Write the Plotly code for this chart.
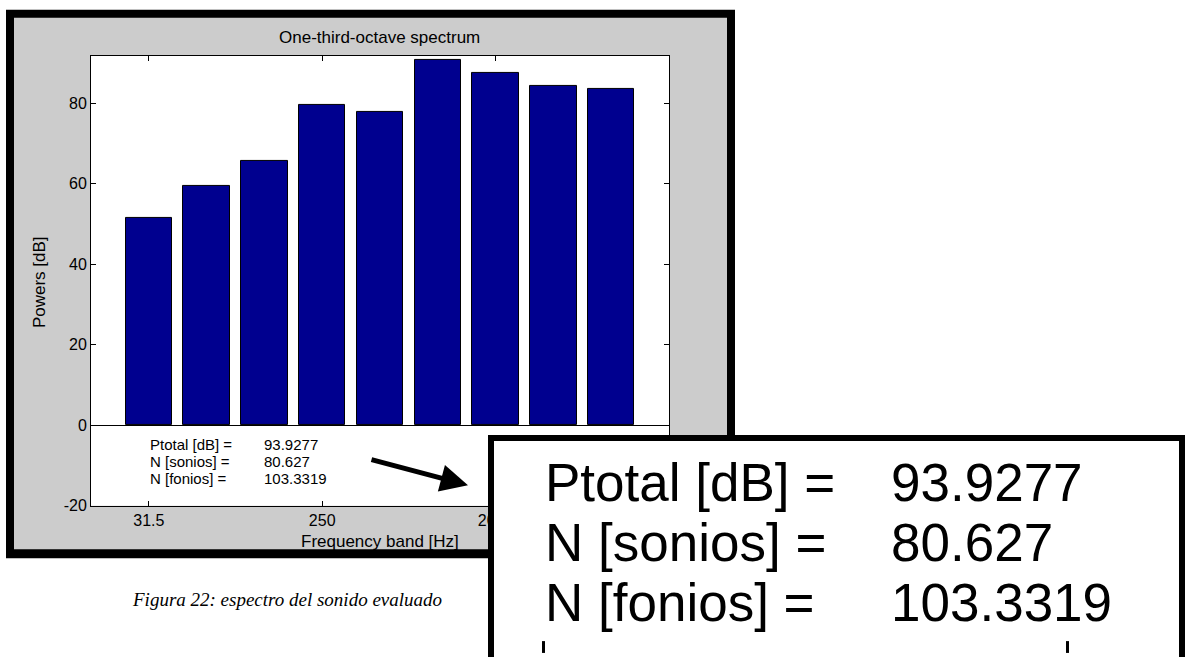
import plotly.graph_objects as go

# ---- data ----
bands = ["31.5", "63", "125", "250", "500", "1000", "2000", "4000", "8000"]
powers_db = [51.5, 59.4, 65.6, 79.6, 77.7, 90.7, 87.4, 84.2, 83.6]
tick_labels = ["31.5", "250", "2000"]
y_ticks = [-20, 0, 20, 40, 60, 80]
result_labels = ["Ptotal [dB] =", "N [sonios] =", "N [fonios] ="]
result_values = ["93.9277", "80.627", "103.3319"]
title_text = "One-third-octave spectrum"
x_title = "Frequency band [Hz]"
y_title = "Powers [dB]"
caption = "Figura 22: espectro del sonido evaluado"

# ---- layout helpers (pixel -> paper) ----
W, H = 1190, 657
def px(x):
    return x / W
def py(y):
    return 1 - y / H

x_pos = list(range(1, len(bands) + 1))
tick_pos = [x_pos[bands.index(t)] for t in tick_labels]

SANS = "Liberation Sans, Arial, Helvetica, sans-serif"
SERIF = "Liberation Serif, Times New Roman, serif"

fig = go.Figure()
fig.add_trace(go.Bar(
    x=x_pos, y=powers_db, width=0.8,
    marker=dict(color="#00008f", line=dict(color="#000000", width=1)),
    showlegend=False, hoverinfo="skip",
))

ax_left, ax_right, ax_top, ax_bot = 91, 669, 56.7, 512.8

shapes = [
    # outer black frame
    dict(type="rect", xref="paper", yref="paper", x0=px(6), x1=px(735), y0=py(566), y1=py(10),
         fillcolor="#000000", line=dict(width=0), layer="below"),
    # gray figure background
    dict(type="rect", xref="paper", yref="paper", x0=px(14), x1=px(727), y0=py(557), y1=py(18),
         fillcolor="#cccccc", line=dict(width=0), layer="below"),
    # white plot area
    dict(type="rect", xref="paper", yref="paper", x0=px(ax_left), x1=px(ax_right), y0=py(ax_bot), y1=py(ax_top),
         fillcolor="#ffffff", line=dict(width=0), layer="below"),
    # zoom inset box
    dict(type="rect", xref="paper", yref="paper", x0=px(491), x1=px(1182), y0=py(720), y1=py(444),
         fillcolor="#ffffff", line=dict(color="#000000", width=6), layer="above"),
    # magnified tick marks at bottom of inset
    dict(type="line", xref="paper", yref="paper", x0=px(543.5), x1=px(543.5), y0=py(650), y1=py(662),
         line=dict(color="#000000", width=3), layer="above"),
    dict(type="line", xref="paper", yref="paper", x0=px(1067.5), x1=px(1067.5), y0=py(650), y1=py(662),
         line=dict(color="#000000", width=3), layer="above"),
]

annotations = [
    dict(text=title_text, x=px(380), y=py(38), xref="paper", yref="paper", showarrow=False,
         font=dict(family=SANS, size=17, color="#000000"), xanchor="center", yanchor="middle"),
    dict(text=x_title, x=px(380), y=py(549), xref="paper", yref="paper", showarrow=False,
         font=dict(family=SANS, size=17, color="#000000"), xanchor="center", yanchor="middle"),
    dict(text=y_title, x=px(39), y=py(286), xref="paper", yref="paper", showarrow=False, textangle=-90,
         font=dict(family=SANS, size=17, color="#000000"), xanchor="center", yanchor="middle"),
    dict(text=caption, x=px(130), y=py(608), xref="paper", yref="paper", showarrow=False,
         font=dict(family=SERIF, size=19, color="#000000", style="italic"), xanchor="left", yanchor="middle"),
    # arrow
    dict(text="", x=px(468), y=py(492), xref="paper", yref="paper", showarrow=True,
         ax=370 - 468, ay=466 - 492, arrowhead=2, arrowsize=1.1, arrowwidth=5, arrowcolor="#000000",
         standoff=0, startstandoff=0),
]

small_y = [451, 468, 485]
big_y = [489, 550, 611]
for lab, val, ys, yb in zip(result_labels, result_values, small_y, big_y):
    annotations.append(dict(text=lab, x=px(148), y=py(ys), xref="paper", yref="paper", showarrow=False,
                            font=dict(family=SANS, size=15, color="#000000"), xanchor="left", yanchor="middle"))
    annotations.append(dict(text=val, x=px(262), y=py(ys), xref="paper", yref="paper", showarrow=False,
                            font=dict(family=SANS, size=15, color="#000000"), xanchor="left", yanchor="middle"))
    annotations.append(dict(text=lab, x=px(543), y=py(yb), xref="paper", yref="paper", showarrow=False,
                            font=dict(family=SANS, size=53, color="#000000"), xanchor="left", yanchor="middle"))
    annotations.append(dict(text=val, x=px(889), y=py(yb), xref="paper", yref="paper", showarrow=False,
                            font=dict(family=SANS, size=53, color="#000000"), xanchor="left", yanchor="middle"))

fig.update_layout(
    width=W, height=H,
    margin=dict(l=0, r=0, t=0, b=0),
    paper_bgcolor="#ffffff",
    plot_bgcolor="#ffffff",
    bargap=0,
    shapes=shapes,
    annotations=annotations,
    xaxis=dict(
        domain=[px(ax_left), px(ax_right)],
        range=[0, 10], tickmode="array", tickvals=tick_pos, ticktext=tick_labels,
        ticks="inside", ticklen=5, tickwidth=1, tickcolor="#000000",
        showline=True, linecolor="#000000", linewidth=1, mirror="ticks",
        showgrid=False, zeroline=False,
        tickfont=dict(family=SANS, size=16, color="#000000"),
    ),
    yaxis=dict(
        domain=[py(ax_bot), py(ax_top)],
        range=[-20, max(powers_db) + 1], tickmode="array", tickvals=y_ticks,
        ticktext=[str(v) for v in y_ticks],
        ticks="inside", ticklen=5, tickwidth=1, tickcolor="#000000",
        showline=True, linecolor="#000000", linewidth=1, mirror="ticks",
        showgrid=False, zeroline=True, zerolinecolor="#000000", zerolinewidth=1,
        tickfont=dict(family=SANS, size=16, color="#000000"),
    ),
)

fig.write_html("out.html")
